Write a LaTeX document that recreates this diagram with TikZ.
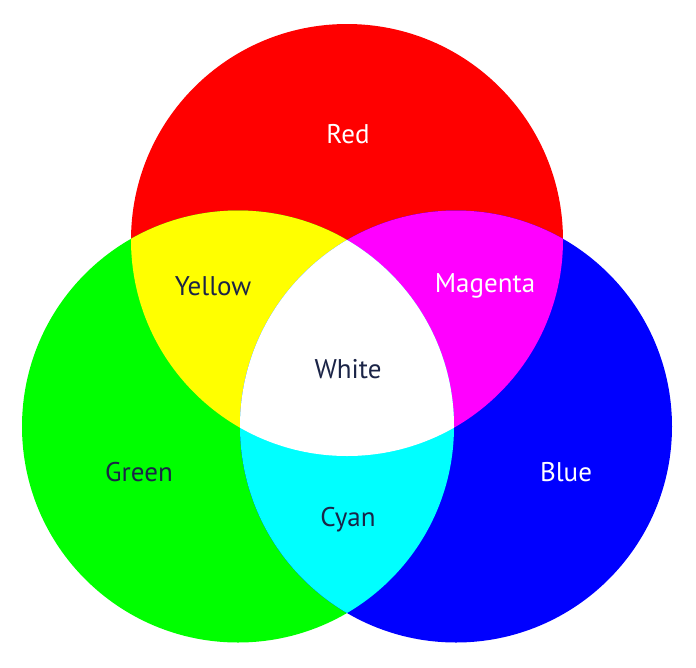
\documentclass[tikz,border=0pt]{standalone}
\usepackage{fontspec}
\setmainfont{PT Sans}
\definecolor{navy}{HTML}{1B2447}
\definecolor{rgbred}{RGB}{255,0,0}
\definecolor{rgbgreen}{RGB}{0,255,0}
\definecolor{rgbblue}{RGB}{0,0,255}
\definecolor{rgbyellow}{RGB}{255,255,0}
\definecolor{rgbmagenta}{RGB}{255,0,255}
\definecolor{rgbcyan}{RGB}{0,255,255}
\tikzset{
  lbl/.style={font=\fontsize{27}{31}\selectfont, text=navy, inner sep=0pt},
  lblw/.style={lbl, text=white}
}
\begin{document}
\begin{tikzpicture}[x=1pt,y=-1pt]
    \useasboundingbox (0,0) rectangle (696,667);
    \def\rad{216pt}

    \coordinate (R) at (347,240);
    \coordinate (G) at (238,426.5);
    \coordinate (B) at (456,426.5);

    % primaries
    \fill[rgbred] (R) circle (\rad);
    \fill[rgbgreen] (G) circle (\rad);
    \fill[rgbblue] (B) circle (\rad);

    % two-way overlaps
    \begin{scope}
        \clip (R) circle (\rad);
        \fill[rgbyellow] (G) circle (\rad);
    \end{scope}
    \begin{scope}
        \clip (R) circle (\rad);
        \fill[rgbmagenta] (B) circle (\rad);
    \end{scope}
    \begin{scope}
        \clip (G) circle (\rad);
        \fill[rgbcyan] (B) circle (\rad);
    \end{scope}

    % centre
    \begin{scope}
        \clip (R) circle (\rad);
        \clip (G) circle (\rad);
        \fill[white] (B) circle (\rad);
    \end{scope}

    \node[lblw] (red) at (348,134) {Red};
    \node[lbl] (yellow) at (213,286) {Yellow};
    \node[lblw] (magenta) at (485,286) {Magenta};
    \node[lbl] (white) at (348,369) {White};
    \node[lbl] (green) at (139,472) {Green};
    \node[lblw] (blue) at (566,472) {Blue};
    \node[lbl] (cyan) at (348,520) {Cyan};
\end{tikzpicture}
\end{document}
